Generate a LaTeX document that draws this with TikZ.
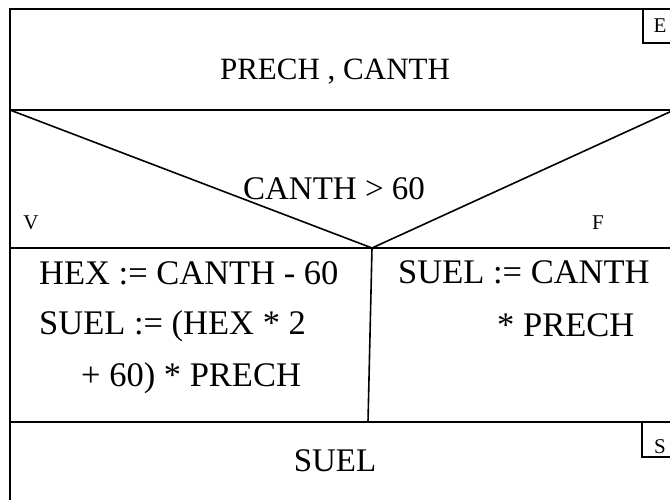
\documentclass[tikz,border=0pt]{standalone}
\usepackage{fontspec}
\setmainfont{Liberation Serif}
\begin{document}
\begin{tikzpicture}[x=1pt,y=-1pt,
  frame/.style={line width=1.6pt,black},
  big/.style={inner sep=0pt,font=\fontsize{33}{40}\selectfont},
  stmt/.style={inner sep=0pt,font=\fontsize{34.5}{40}\selectfont},
  small/.style={inner sep=0pt,font=\fontsize{21}{25}\selectfont}]
\useasboundingbox (0,0) rectangle (670,499);
\clip (0,0) rectangle (670,499);
% outer frame and separators
\coordinate (tl) at (10,9);
\coordinate (tr) at (674,9);
\coordinate (bl) at (10,510);
\coordinate (br) at (674,510);
\coordinate (l1) at (10,110);
\coordinate (r1) at (674,110);
\coordinate (l2) at (10,248);
\coordinate (r2) at (674,248);
\coordinate (l3) at (10,422);
\coordinate (r3) at (674,422);
\coordinate (vx) at (372,248);
\coordinate (vb) at (368,422);
\draw[frame] (bl) -- (tl) -- (tr) -- (br);
\draw[frame] (l1) -- (r1);
\draw[frame] (l2) -- (r2);
\draw[frame] (l3) -- (r3);
\draw[frame] (l1) -- (vx) -- (r1);
\draw[frame] (vx) -- (vb);
% E and S boxes
\draw[frame] (643,9) -- (643,43) -- (674,43);
\draw[frame] (642,422) -- (642,457) -- (674,457);
% texts
\node[inner sep=0pt,font=\fontsize{31}{40}\selectfont,anchor=base] (inp) at (335,79) {PRECH , CANTH};
\node[big,anchor=base] (cond) at (334,199) {CANTH > 60};
\node[small,anchor=base] (v) at (31,229) {V};
\node[small,anchor=base] (f) at (598,229) {F};
\node[small,anchor=base] (e) at (660,32) {E};
\node[small,anchor=base] (s) at (660,453) {S};
\node[stmt,anchor=base west] (a1) at (39,284) {HEX := CANTH - 60};
\node[stmt,anchor=base west] (a2) at (39,334) {SUEL := (HEX * 2};
\node[stmt,anchor=base west] (a3) at (81,386) {+ 60) * PRECH};
\node[stmt,anchor=base west] (b1) at (398,283) {SUEL := CANTH};
\node[stmt,anchor=base west] (b2) at (497,336) {* PRECH};
\node[big,anchor=base] (out) at (335,471) {SUEL};
\end{tikzpicture}
\end{document}
